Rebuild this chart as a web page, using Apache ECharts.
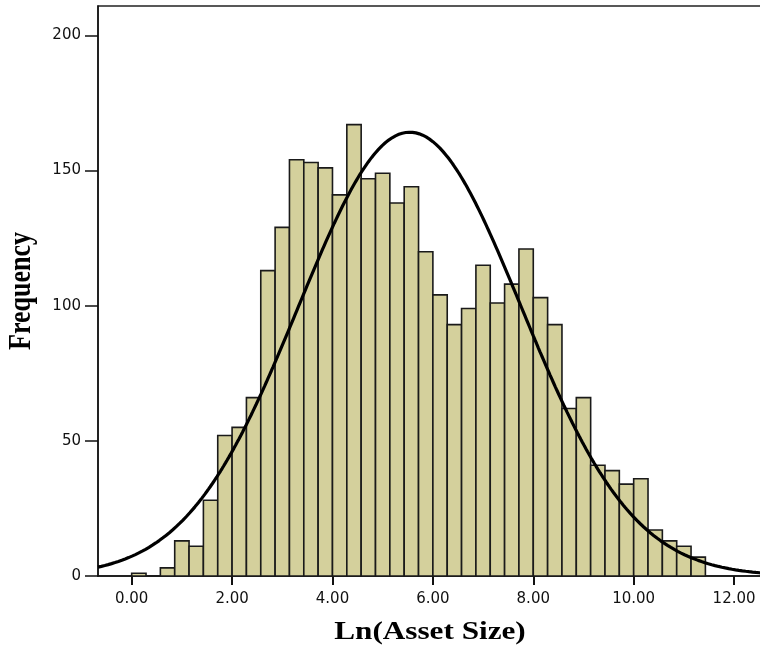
<!DOCTYPE html>
<html>
<head>
<meta charset="utf-8">
<script src="https://cdn.jsdelivr.net/npm/echarts@6/dist/echarts.min.js"></script>
<style>html,body{margin:0;padding:0;background:#fff;}#c{width:760px;height:647px;}</style>
</head>
<body>
<div id="c"></div>
<script>
// Histogram of Ln(Asset Size): 40 bins of width 2/7 starting at 0
const binStart = 0;
const binWidth = 2 / 7;
const counts = [1, 0, 3, 13, 11, 28, 52, 55, 66, 113, 129, 154, 153, 151, 141, 167, 147, 149, 138, 144,
                120, 104, 93, 99, 115, 101, 108, 121, 103, 93, 62, 66, 41, 39, 34, 36, 17, 13, 11, 7];
// Fitted normal curve parameters
const fitMean = 5.54;
const fitSd = 2.22;
const xTicks = [0, 2, 4, 6, 8, 10, 12];
const yTicks = [0, 50, 100, 150, 200];
const xTitle = 'Ln(Asset Size)';
const yTitle = 'Frequency';

const xMin = -0.671, xMax = 12.875, yMax = 210.9;

const histData = counts.map((c, i) => [binStart + i * binWidth, binStart + (i + 1) * binWidth, c]);
const total = counts.reduce((a, b) => a + b, 0);
const curve = [];
for (let i = 0; i <= 400; i++) {
  const x = xMin + (xMax - xMin) * i / 400;
  const z = (x - fitMean) / fitSd;
  curve.push([x, total * binWidth / (fitSd * Math.sqrt(2 * Math.PI)) * Math.exp(-0.5 * z * z)]);
}

const chart = echarts.init(document.getElementById('c'), null, {renderer: 'canvas'});
chart.setOption({
  animation: false,
  backgroundColor: '#fff',
  grid: {left: 98, top: 6, width: 680, height: 570, show: true, borderColor: '#222', borderWidth: 1.5,
         backgroundColor: 'transparent', containLabel: false, outerBoundsMode: 'none'},
  xAxis: {
    type: 'value', min: xMin, max: xMax,
    axisLine: {show: true, onZero: false, lineStyle: {color: '#111', width: 1.5}},
    axisTick: {show: true, customValues: xTicks, length: 9, lineStyle: {color: '#111', width: 2}},
    axisLabel: {customValues: xTicks, formatter: v => v.toFixed(2), margin: 16, color: '#111',
                fontFamily: 'DejaVu Sans', fontSize: 15},
    splitLine: {show: false}
  },
  yAxis: {
    type: 'value', min: 0, max: yMax,
    axisLine: {show: true, onZero: false, lineStyle: {color: '#111', width: 1.5}},
    axisTick: {show: true, customValues: yTicks, length: 13, lineStyle: {color: '#111', width: 1.5}},
    axisLabel: {customValues: yTicks, margin: 17, color: '#111', fontFamily: 'DejaVu Sans', fontSize: 15},
    splitLine: {show: false}
  },
  series: [
    {
      type: 'custom',
      data: histData,
      encode: {x: [0, 1], y: 2},
      renderItem: function (params, api) {
        const p0 = api.coord([api.value(0), api.value(2)]);
        const p1 = api.coord([api.value(1), 0]);
        return {
          type: 'rect',
          shape: {x: p0[0], y: p0[1], width: p1[0] - p0[0], height: p1[1] - p0[1]},
          style: {fill: '#d4d09c', stroke: '#1a1a1a', lineWidth: 1.6}
        };
      },
      z: 2
    },
    {
      type: 'line',
      data: curve,
      showSymbol: false,
      smooth: false,
      lineStyle: {color: '#000', width: 3.2},
      z: 3
    }
  ],
  graphic: [
    {
      type: 'group', x: 430, y: 632, scaleX: 1.2,
      children: [{type: 'text', x: 0, y: 0,
        style: {text: xTitle, fontFamily: 'Liberation Serif', fontWeight: 'bold', fontSize: 26,
                fill: '#000', align: 'center', verticalAlign: 'middle'}}]
    },
    {
      type: 'group', x: 22, y: 291, scaleX: 1.2,
      children: [{type: 'text', x: 0, y: 0, rotation: Math.PI / 2,
        style: {text: yTitle, fontFamily: 'Liberation Serif', fontWeight: 'bold', fontSize: 26,
                fill: '#000', align: 'center', verticalAlign: 'middle'}}]
    }
  ]
});
</script>
</body>
</html>
